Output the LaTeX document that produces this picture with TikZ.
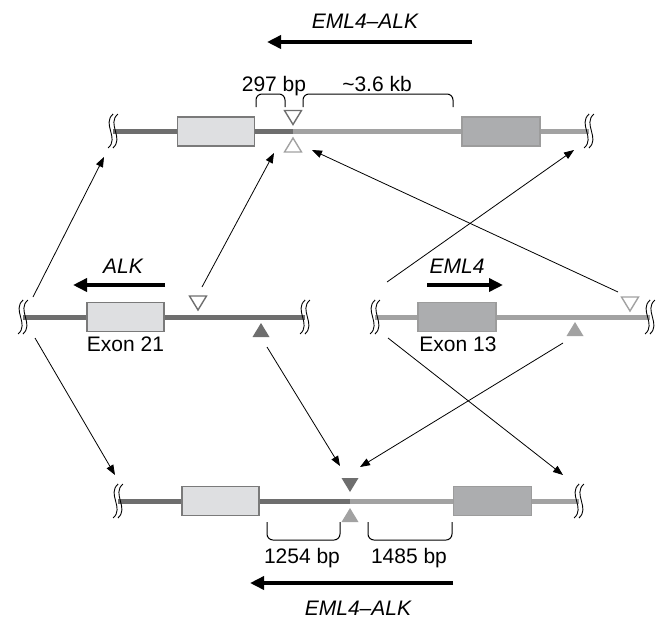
\documentclass[tikz,border=0pt]{standalone}
\usepackage{fontspec}
\setmainfont{Liberation Sans}
\usetikzlibrary{arrows.meta}
\definecolor{dkline}{HTML}{6E6E6E}
\definecolor{ltline}{HTML}{A2A2A2}
\definecolor{exlight}{HTML}{DEDFE1}
\definecolor{exdark}{HTML}{ACADAF}
\definecolor{exlightedge}{HTML}{7A7A7A}
\definecolor{exdarkedge}{HTML}{9C9C9C}
\tikzset{
  strandA/.style={draw=dkline, line width=5pt},
  strandB/.style={draw=ltline, line width=5pt},
  exonA/.style={draw=exlightedge, fill=exlight, line width=1.5pt, inner sep=0pt,
    minimum width=77pt, minimum height=29pt},
  exonB/.style={draw=exdarkedge, fill=exdark, line width=1.5pt, inner sep=0pt,
    minimum width=78pt, minimum height=29pt},
  label/.style={inner sep=0pt, anchor=base, font=\fontsize{21}{25}\selectfont},
  gene/.style={label, font=\fontsize{21}{25}\selectfont\itshape},
  bigarrow/.style={line width=4.5pt, -{Triangle[length=14pt,width=13pt]}},
  thinarrow/.style={line width=0.8pt, -{Triangle[length=10pt,width=7.5pt]}},
  bracketline/.style={line width=1pt, rounded corners=6pt},
  openmark/.style={fill=white, line width=1.4pt},
  strandbreak/.pic={
    \draw[line width=0.9pt, black] (-2.4+2.5,-17) .. controls (-2.4-9,-7) and (-2.4+9,7) .. (-2.4-2.5,17);
    \draw[line width=0.9pt, black] (2.4+2.5,-17) .. controls (2.4-9,-7) and (2.4+9,7) .. (2.4-2.5,17);
  },
  markdn/.pic={\path[pic actions] (-8.5,0) -- (8.5,0) -- (0,14) -- cycle;},
  markup/.pic={\path[pic actions] (-8.5,0) -- (8.5,0) -- (0,-14) -- cycle;}
}
\begin{document}
\begin{tikzpicture}[x=1pt, y=-1pt]
\useasboundingbox (0,0) rectangle (658,619);

% ---------- fused allele (top) ----------
\coordinate (tL) at (113,131);
\coordinate (tJ) at (293,131);
\coordinate (tR) at (589,131);
\draw[strandA] (tL) -- (tJ);
\draw[strandB] (tJ) -- (tR);
\node[exonA] (tex1) at (216,131.5) {};
\node[exonB] (tex2) at (501,131.5) {};
\pic at (tL) {strandbreak};
\pic at (tR) {strandbreak};
\pic[draw=dkline, openmark] at (293,110.5) {markdn};
\pic[draw=ltline, openmark] at (293,152) {markup};
\draw[bracketline] (256,107) -- (256,94) -- (285,94) -- (285,107);
\draw[bracketline] (303,107) -- (303,94) -- (453,94) -- (453,107);
\node[label] (t297) at (274,91) {297 bp};
\node[label] (t36) at (377,91) {\textasciitilde3.6 kb};
\coordinate (tArS) at (472,42);
\coordinate (tArE) at (267,42);
\draw[bigarrow] (tArS) -- (tArE);
\node[gene] (tname) at (365,28) {EML4--ALK};

% ---------- ALK allele (middle left) ----------
\coordinate (aL) at (23,317);
\coordinate (aR) at (305,317);
\draw[strandA] (aL) -- (aR);
\node[exonA] (aex) at (125.5,317) {};
\pic at (aL) {strandbreak};
\pic at (aR) {strandbreak};
\pic[draw=dkline, openmark] at (198,296) {markdn};
\pic[fill=dkline] at (261,337) {markup};
\draw[bigarrow] (165,285) coordinate (aArS) -- (73,285) coordinate (aArE);
\node[gene] (aname) at (123,273) {ALK};
\node[label] (aexl) at (125.5,351) {Exon 21};

% ---------- EML4 allele (middle right) ----------
\coordinate (eL) at (375,317);
\coordinate (eR) at (650,317);
\draw[strandB] (eL) -- (eR);
\node[exonB] (eex) at (457,317) {};
\pic at (eL) {strandbreak};
\pic at (eR) {strandbreak};
\pic[draw=ltline, openmark] at (630,297) {markdn};
\pic[fill=ltline] at (575,336) {markup};
\draw[bigarrow] (427,285) coordinate (eArS) -- (503,285) coordinate (eArE);
\node[gene] (ename) at (457,273) {EML4};
\node[label] (eexl) at (458,351) {Exon 13};

% ---------- fused allele (bottom) ----------
\coordinate (bL) at (118,501);
\coordinate (bJ) at (350,501);
\coordinate (bR) at (579,501);
\draw[strandA] (bL) -- (bJ);
\draw[strandB] (bJ) -- (bR);
\node[exonA] (bex1) at (220.5,501) {};
\node[exonB] (bex2) at (492.5,501) {};
\pic at (bL) {strandbreak};
\pic at (bR) {strandbreak};
\pic[fill=dkline] at (350,478) {markdn};
\pic[fill=ltline] at (350,522) {markup};
\draw[bracketline] (267,522) -- (267,540) -- (340,540) -- (340,522);
\draw[bracketline] (368,522) -- (368,540) -- (452,540) -- (452,522);
\node[label] (b1254) at (302,563) {1254 bp};
\node[label] (b1485) at (409,563) {1485 bp};
\draw[bigarrow] (453,583) coordinate (bArS) -- (250,583) coordinate (bArE);
\node[gene] (bname) at (358,615) {EML4--ALK};

% ---------- rearrangement connectors ----------
\coordinate (c1s) at (33,297);   \coordinate (c1e) at (104,157);
\coordinate (c2s) at (202,287);  \coordinate (c2e) at (274,153);
\coordinate (c3s) at (618,292);  \coordinate (c3e) at (312,150);
\coordinate (c4s) at (387,282);  \coordinate (c4e) at (574,150);
\coordinate (c5s) at (35,338);   \coordinate (c5e) at (115,475);
\coordinate (c6s) at (267,347);  \coordinate (c6e) at (340,466);
\coordinate (c7s) at (563,343);  \coordinate (c7e) at (360,467);
\coordinate (c8s) at (388,338);  \coordinate (c8e) at (563,475);
\foreach \k in {1,...,8} {\draw[thinarrow] (c\k s) -- (c\k e);}
\end{tikzpicture}
\end{document}
